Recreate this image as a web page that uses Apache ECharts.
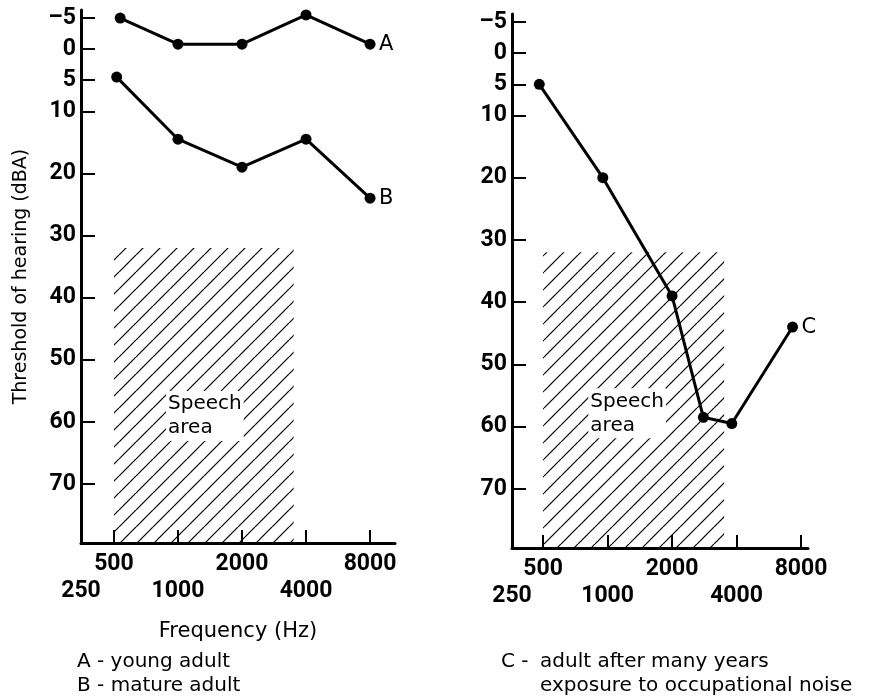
<!DOCTYPE html>
<html><head><meta charset="utf-8">
<script src="https://cdn.jsdelivr.net/npm/echarts@6/dist/echarts.min.js"></script>
<style>html,body{margin:0;padding:0;background:#fff}#c{width:871px;height:697px}</style>
</head><body><div id="c"></div>
<script>
// ---- data ----
const freqA = [535, 1000, 2000, 4000, 8000];
const seriesA = [-5, -0.8, -0.8, -5.5, -0.8];
const freqB = [515, 1000, 2000, 4000, 8000];
const seriesB = [4.5, 14.5, 19, 14.5, 24];
const freqC = [480, 950, 2000, 2800, 3800, 7300];
const seriesC = [5, 20, 39, 58.5, 59.5, 44];
const yTicks = [-5, 0, 5, 10, 20, 30, 40, 50, 60, 70];
const xTicks = [500, 1000, 2000, 4000, 8000];
const xLabelsRow1 = [500, 2000, 8000];
const xLabelsRow2 = [250, 1000, 4000];
const speechFreq = [500, 3500];
const speechDb = [32, 79.5];
const yRange = [-6.3, 79.5];
const xRangeLeft = [350, 10480];
const xRangeRight = [358, 8620];

// ---- hatch pattern ----
function hatch() {
  const s = 17;
  const c = document.createElement('canvas');
  c.width = s; c.height = s;
  const g = c.getContext('2d');
  g.strokeStyle = '#000';
  g.lineWidth = 1.2;
  for (const k of [-s, 0, s]) {
    g.beginPath(); g.moveTo(k, s); g.lineTo(k + s, 0); g.stroke();
  }
  return c;
}
const pattern = { image: hatch(), repeat: 'repeat' };

const FONT = 'DejaVu Sans';
const TICKFONT = 'Roboto';
const TICKSIZE = 23;
function xAxisMain(idx, range) {
  return {
    type: 'log', logBase: 2, gridIndex: idx, min: range[0], max: range[1], position: 'bottom',
    axisLine: { show: true, onZero: false, lineStyle: { color: '#000', width: 3 } },
    axisTick: { show: true, inside: true, length: 13, customValues: xTicks, lineStyle: { color: '#000', width: 2 } },
    axisLabel: {
      show: true, customValues: xLabelsRow1, margin: 10,
      fontFamily: TICKFONT, fontWeight: 'bold', fontSize: TICKSIZE, color: '#000', verticalAlign: 'top',
      formatter: v => '' + Math.round(v)
    },
    splitLine: { show: false }, minorTick: { show: false },
    name: idx === 0 ? 'Frequency (Hz)' : '', nameLocation: 'middle', nameGap: 78,
    nameTextStyle: { fontFamily: FONT, fontSize: 21, color: '#000' }
  };
}
function xAxisRow2(idx, range) {
  return {
    type: 'log', logBase: 2, gridIndex: idx, min: range[0], max: range[1], position: 'bottom', offset: 0,
    axisLine: { show: false, onZero: false },
    axisTick: { show: false },
    axisLabel: {
      show: true, customValues: [range[0]].concat(xLabelsRow2.slice(1)), margin: 37,
      showMinLabel: true,
      fontFamily: TICKFONT, fontWeight: 'bold', fontSize: TICKSIZE, color: '#000', verticalAlign: 'top',
      formatter: v => v < 400 ? '' + xLabelsRow2[0] : '' + Math.round(v)
    },
    splitLine: { show: false }, minorTick: { show: false }
  };
}
function yAxisCfg(idx) {
  return {
    type: 'value', inverse: true, gridIndex: idx, min: yRange[0], max: yRange[1],
    axisLine: { show: true, onZero: false, lineStyle: { color: '#000', width: 3 } },
    axisTick: { show: true, inside: true, length: 14, customValues: yTicks, lineStyle: { color: '#000', width: 2 } },
    axisLabel: {
      show: true, customValues: yTicks, margin: 5,
      fontFamily: TICKFONT, fontWeight: 'bold', fontSize: TICKSIZE, color: '#000',
      formatter: v => v < 0 ? '\u2013' + Math.abs(v) : '' + v
    },
    splitLine: { show: false },
    name: idx === 0 ? 'Threshold of hearing (dBA)' : '', nameLocation: 'middle', nameGap: 50,
    nameTextStyle: { fontFamily: FONT, fontSize: 19, color: '#000' }
  };
}
function pairs(xs, ys) { return xs.map((x, i) => [x, ys[i]]); }
function speechMark(labelPos) {
  return {
    silent: true,
    itemStyle: { color: pattern, borderWidth: 0 },
    label: {
      show: true, position: labelPos, align: 'left', verticalAlign: 'top',
      formatter: 'Speech\narea', fontFamily: FONT, fontSize: 20, lineHeight: 24,
      color: '#000', backgroundColor: '#fff', padding: [1, 2, 1, 2]
    },
    data: [[{ coord: [speechFreq[0], speechDb[0]] }, { coord: [speechFreq[1], speechDb[1]] }]]
  };
}
function lineSeries(name, xi, xs, ys, mark) {
  const s = {
    name: name, type: 'line', xAxisIndex: xi * 2, yAxisIndex: xi,
    data: pairs(xs, ys), symbol: 'circle', symbolSize: 11,
    itemStyle: { color: '#000' }, lineStyle: { color: '#000', width: 3 },
    endLabel: { show: true, formatter: '{a}', distance: 9, fontFamily: FONT, fontSize: 21, color: '#000' },
    animation: false, z: 3
  };
  if (mark) s.markArea = mark;
  return s;
}

const chart = echarts.init(document.getElementById('c'), null, { renderer: 'canvas' });
chart.setOption({
  backgroundColor: '#fff',
  animation: false,
  grid: [
    { left: 81, top: 10, width: 314, height: 533 },
    { left: 512, top: 14, width: 296, height: 534 }
  ],
  xAxis: [xAxisMain(0, xRangeLeft), xAxisRow2(0, xRangeLeft), xAxisMain(1, xRangeRight), xAxisRow2(1, xRangeRight)],
  yAxis: [yAxisCfg(0), yAxisCfg(1)],
  series: [
    lineSeries('A', 0, freqA, seriesA, speechMark(['29%', '48.5%'])),
    lineSeries('B', 0, freqB, seriesB, null),
    lineSeries('C', 1, freqC, seriesC, speechMark(['25%', '46%']))
  ],
  graphic: [
    { type: 'text', left: 77, top: 650, style: { text: 'A - young adult\nB - mature adult', fontFamily: FONT, fontSize: 20, lineHeight: 24, fill: '#000' } },
    { type: 'text', left: 501, top: 650, style: { text: 'C -', fontFamily: FONT, fontSize: 20, lineHeight: 24, fill: '#000' } },
    { type: 'text', left: 540, top: 650, style: { text: 'adult after many years\nexposure to occupational noise', fontFamily: FONT, fontSize: 20, lineHeight: 24, fill: '#000' } }
  ]
});
</script></body></html>
